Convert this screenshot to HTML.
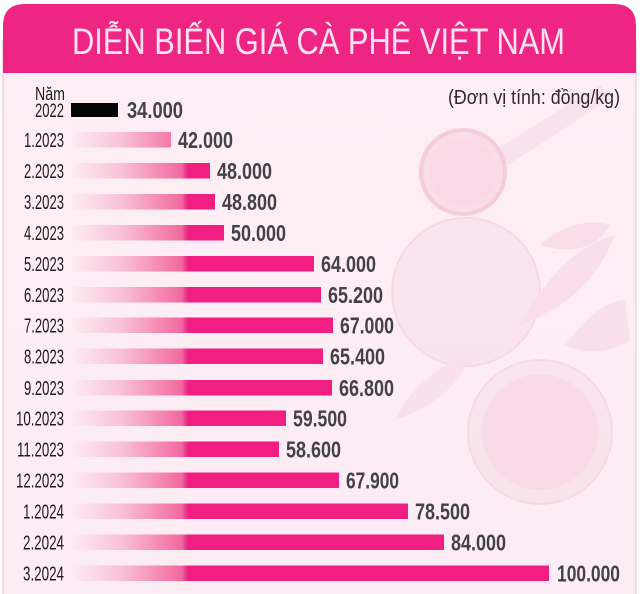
<!DOCTYPE html>
<html><head><meta charset="utf-8"><style>
html,body{margin:0;padding:0;background:#fff;}
svg{display:block;}
</style></head><body>
<svg width="640" height="594" viewBox="0 0 640 594" xmlns="http://www.w3.org/2000/svg">
<defs>
<linearGradient id="bg" x1="0" y1="0" x2="0" y2="1">
<stop offset="0" stop-color="#fdeff5"/><stop offset="1" stop-color="#fcecf3"/>
</linearGradient>
<linearGradient id="bar" gradientUnits="userSpaceOnUse" x1="72" y1="0" x2="560" y2="0">
<stop offset="0" stop-color="#fdebf2"/>
<stop offset="0.10" stop-color="#f9c2d7"/>
<stop offset="0.225" stop-color="#f2699f"/>
<stop offset="0.232" stop-color="#e8418d"/>
<stop offset="0.238" stop-color="#f21f83"/>
<stop offset="1" stop-color="#f21f83"/>
</linearGradient>
</defs>
<rect width="640" height="594" fill="#fff"/>
<rect x="3" y="40" width="633" height="556" fill="url(#bg)" stroke="#f2c4d6" stroke-width="1.2"/>
<g opacity="0.55">
<path d="M495 150 L600 85 L612 98 L508 165 Z" fill="#f8d9e6"/>
<circle cx="463" cy="172" r="42" fill="#f7d1e0" stroke="#f1afc9" stroke-width="4"/>
<circle cx="463" cy="172" r="34" fill="#f6c9da"/>
<circle cx="466" cy="292" r="74" fill="#f9dce8" stroke="#f4c6d8" stroke-width="2"/>
<circle cx="540" cy="432" r="72" fill="#f9dde8" stroke="#f3c7d8" stroke-width="2"/>
<circle cx="540" cy="432" r="58" fill="#f6cedd"/>
<path d="M520 325 Q560 250 615 235 Q590 300 520 325 Z" fill="#f7d3e1"/>
<path d="M395 420 Q420 370 470 355 Q455 400 395 420 Z" fill="#f8d8e5"/>
<path d="M540 245 Q575 215 610 225 Q590 260 540 245 Z" fill="#f7d0df"/>
<path d="M565 345 Q600 300 625 300 L630 340 Q600 360 565 345 Z" fill="#f7d5e2"/>
</g>
<path d="M3 73 L3 26 Q3 4 25 4 L614 4 Q636 4 636 26 L636 73 Z" fill="#ef2584"/>
<text x="72" y="54" font-family="Liberation Sans, sans-serif" font-size="37" fill="#fde4f0" textLength="493" lengthAdjust="spacingAndGlyphs">DIỄN BIẾN GIÁ CÀ PHÊ VIỆT NAM</text>
<text x="448" y="104" font-family="Liberation Sans, sans-serif" font-size="20" fill="#2e2a2e" textLength="172" lengthAdjust="spacingAndGlyphs">(Đơn vị tính: đồng/kg)</text>
<text x="35" y="100" font-family="Liberation Sans, sans-serif" font-size="18" fill="#222" textLength="30" lengthAdjust="spacingAndGlyphs">Năm</text>
<text x="35" y="117" font-family="Liberation Sans, sans-serif" font-size="19" fill="#222" textLength="29" lengthAdjust="spacingAndGlyphs">2022</text>
<rect x="71" y="103" width="47" height="14" fill="#050505"/>
<text x="127" y="118" font-family="Liberation Sans, sans-serif" font-weight="bold" font-size="23" fill="#454148" textLength="56" lengthAdjust="spacingAndGlyphs">34.000</text>
<g font-family="Liberation Sans, sans-serif">
<g fill="url(#bar)">
<rect x="72" y="132" width="99" height="15.5"/>
<rect x="72" y="163" width="138" height="15.5"/>
<rect x="72" y="194" width="143" height="15.5"/>
<rect x="72" y="225" width="152" height="15.5"/>
<rect x="72" y="256" width="242" height="15.5"/>
<rect x="72" y="287" width="249" height="15.5"/>
<rect x="72" y="317.5" width="261" height="15.5"/>
<rect x="72" y="348.5" width="251" height="15.5"/>
<rect x="72" y="380" width="260" height="15.5"/>
<rect x="72" y="410.5" width="214" height="15.5"/>
<rect x="72" y="441.5" width="207" height="15.5"/>
<rect x="72" y="472.5" width="267" height="15.5"/>
<rect x="72" y="503.5" width="336" height="15.5"/>
<rect x="72" y="534.5" width="372" height="15.5"/>
<rect x="72" y="565.5" width="477" height="15.5"/>
</g>
<g font-size="20" fill="#1f1c1f" text-anchor="end">
<text x="64" y="147" textLength="40" lengthAdjust="spacingAndGlyphs">1.2023</text>
<text x="64" y="178" textLength="40" lengthAdjust="spacingAndGlyphs">2.2023</text>
<text x="64" y="209" textLength="40" lengthAdjust="spacingAndGlyphs">3.2023</text>
<text x="64" y="240" textLength="40" lengthAdjust="spacingAndGlyphs">4.2023</text>
<text x="64" y="271" textLength="40" lengthAdjust="spacingAndGlyphs">5.2023</text>
<text x="64" y="302" textLength="40" lengthAdjust="spacingAndGlyphs">6.2023</text>
<text x="64" y="332.5" textLength="40" lengthAdjust="spacingAndGlyphs">7.2023</text>
<text x="64" y="363.5" textLength="40" lengthAdjust="spacingAndGlyphs">8.2023</text>
<text x="64" y="395" textLength="40" lengthAdjust="spacingAndGlyphs">9.2023</text>
<text x="64" y="425.5" textLength="48" lengthAdjust="spacingAndGlyphs">10.2023</text>
<text x="64" y="456.5" textLength="47" lengthAdjust="spacingAndGlyphs">11.2023</text>
<text x="64" y="487.5" textLength="48" lengthAdjust="spacingAndGlyphs">12.2023</text>
<text x="64" y="518.5" textLength="41" lengthAdjust="spacingAndGlyphs">1.2024</text>
<text x="64" y="549.5" textLength="41" lengthAdjust="spacingAndGlyphs">2.2024</text>
<text x="64" y="580.5" textLength="41" lengthAdjust="spacingAndGlyphs">3.2024</text>
</g>
<g font-size="23" font-weight="bold" fill="#454148">
<text x="178" y="148" textLength="55" lengthAdjust="spacingAndGlyphs">42.000</text>
<text x="217" y="179" textLength="55" lengthAdjust="spacingAndGlyphs">48.000</text>
<text x="222" y="210" textLength="55" lengthAdjust="spacingAndGlyphs">48.800</text>
<text x="231" y="241" textLength="55" lengthAdjust="spacingAndGlyphs">50.000</text>
<text x="321" y="272" textLength="55" lengthAdjust="spacingAndGlyphs">64.000</text>
<text x="328" y="303" textLength="55" lengthAdjust="spacingAndGlyphs">65.200</text>
<text x="340" y="333.5" textLength="54" lengthAdjust="spacingAndGlyphs">67.000</text>
<text x="330" y="364.5" textLength="55" lengthAdjust="spacingAndGlyphs">65.400</text>
<text x="339" y="396" textLength="55" lengthAdjust="spacingAndGlyphs">66.800</text>
<text x="293" y="426.5" textLength="54" lengthAdjust="spacingAndGlyphs">59.500</text>
<text x="286" y="457.5" textLength="55" lengthAdjust="spacingAndGlyphs">58.600</text>
<text x="346" y="488.5" textLength="53" lengthAdjust="spacingAndGlyphs">67.900</text>
<text x="415" y="519.5" textLength="55" lengthAdjust="spacingAndGlyphs">78.500</text>
<text x="451" y="550.5" textLength="55" lengthAdjust="spacingAndGlyphs">84.000</text>
<text x="557" y="581.5" textLength="63" lengthAdjust="spacingAndGlyphs">100.000</text>
</g>
</g>
</svg>
</body></html>
